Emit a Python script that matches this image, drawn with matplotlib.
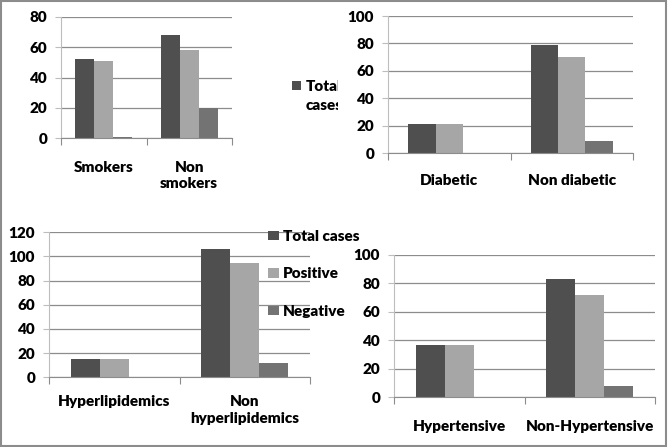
import matplotlib.pyplot as plt
import numpy as np
from matplotlib.patches import Rectangle

plt.rcParams["font.family"] = ["Lato", "DejaVu Sans"]
plt.rcParams["font.weight"] = "heavy"
plt.rcParams["font.size"] = 11

series = ["Total cases", "Positive", "Negative"]
colors = ["#4f4f4f", "#a6a6a6", "#737373"]

smoke_cats = ["Smokers", "Non\nsmokers"]
smoke_total = [52, 68]
smoke_pos = [51, 58]
smoke_neg = [1, 20]

diab_cats = ["Diabetic", "Non diabetic"]
diab_total = [21, 79]
diab_pos = [21, 70]
diab_neg = [0, 9]

lipid_cats = ["Hyperlipidemics", "Non\nhyperlipidemics"]
lipid_total = [15, 106]
lipid_pos = [15, 95]
lipid_neg = [0, 12]

tens_cats = ["Hypertensive", "Non-Hypertensive"]
tens_total = [37, 83]
tens_pos = [37, 72]
tens_neg = [0, 8]

W, H = 668, 447
fig = plt.figure(figsize=(W / 100, H / 100), dpi=100)


def px_rect(left, top, right, bottom):
    # pixel box (from top-left) -> figure fraction rect
    return [left / W, 1 - bottom / H, (right - left) / W, (bottom - top) / H]


def panel(rect, cats, vals, ymax, step, zorder=0, pad=16):
    ax = fig.add_axes(rect, zorder=zorder)
    x = np.arange(len(cats))
    w = 1 / 4.5
    bars = []
    for i, (name, v, c) in enumerate(zip(series, vals, colors)):
        bars.append(ax.bar(x + (i - 1) * w, v, w, color=c, label=name, zorder=2))
    ax.set_xlim(-0.5, len(cats) - 0.5)
    ax.set_ylim(0, ymax)
    ax.set_yticks(np.arange(0, ymax + 1, step))
    ax.yaxis.grid(True, color="#8c8c8c", lw=0.9)
    ax.set_axisbelow(True)
    ax.set_xticks(np.arange(len(cats) + 1) - 0.5)
    ax.set_xticklabels([])
    ax.set_xticks(x, cats, minor=True)
    ax.tick_params(axis="x", which="minor", length=0, pad=pad)
    ax.tick_params(axis="x", which="major", length=5, color="#8c8c8c")
    ax.tick_params(axis="y", length=4, color="#bdbdbd", pad=6)
    for lbl in ax.get_xticklabels(minor=True):
        lbl.set_linespacing(1.35)
        lbl.set_fontweight("heavy")
    for lbl in ax.get_yticklabels():
        lbl.set_fontweight("heavy")
    ax.spines["top"].set_visible(False)
    ax.spines["right"].set_visible(False)
    ax.spines["left"].set_color("#bdbdbd")
    ax.spines["bottom"].set_color("#8c8c8c")
    return ax, bars


ax1, b1 = panel(px_rect(61, 16.7, 232, 138.3), smoke_cats,
                [smoke_total, smoke_pos, smoke_neg], 80, 20)
# legend label wraps onto a second line in the original
ax1.legend([b1[0], Rectangle((0, 0), 1, 1, visible=False)], ["Total", "cases"],
           loc="upper left", prop={"weight": "heavy"},
           bbox_to_anchor=(292 / W, 1 - 80 / H), bbox_transform=fig.transFigure,
           frameon=False, borderpad=0, borderaxespad=0, labelspacing=0.4,
           handlelength=0.6, handleheight=0.6, handletextpad=0.3)

# chart area of the second panel hides the rest of the first legend
fig.add_artist(Rectangle((338 / W, 1 - 220 / H), 1 - 338 / W, 220 / H,
                         transform=fig.transFigure, facecolor="white",
                         edgecolor="none", zorder=1))

ax2, b2 = panel(px_rect(388, 16, 633, 153.3), diab_cats,
                [diab_total, diab_pos, diab_neg], 100, 20, zorder=2, pad=15)

ax3, b3 = panel(px_rect(49, 232.3, 310, 377.3), lipid_cats,
                [lipid_total, lipid_pos, lipid_neg], 120, 20, pad=13)
ax3.legend(b3, series, loc="upper left", prop={"weight": "heavy"},
           bbox_to_anchor=(268 / W, 1 - 230 / H), bbox_transform=fig.transFigure,
           frameon=False, borderpad=0, borderaxespad=0, labelspacing=1.6,
           handlelength=0.7, handleheight=0.6, handletextpad=0.3)

ax4, b4 = panel(px_rect(394, 255, 655, 397.3), tens_cats,
                [tens_total, tens_pos, tens_neg], 100, 20)

fig.add_artist(Rectangle((0.002, 0.003), 0.995, 0.994, transform=fig.transFigure,
                         fill=False, edgecolor="#8c8c8c", lw=1.5, zorder=10))

fig.savefig("out.png", dpi=100)
